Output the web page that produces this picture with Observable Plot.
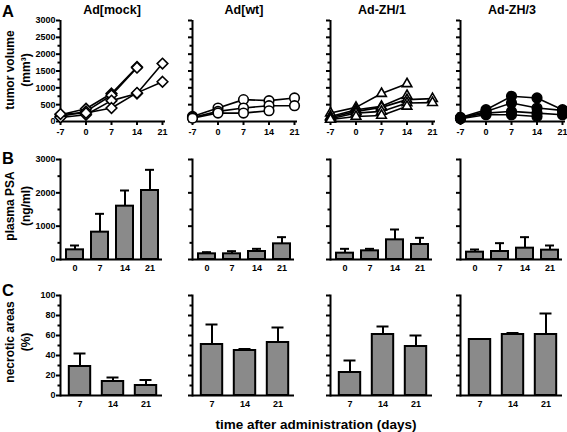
<!DOCTYPE html>
<html>
<head>
<meta charset="utf-8">
<script src="https://cdn.jsdelivr.net/npm/d3@7"></script>
<script src="https://cdn.jsdelivr.net/npm/@observablehq/plot@0.6"></script>
<style>
html, body { margin: 0; padding: 0; background: #fff; overflow: hidden; }
#fig { position: relative; width: 567px; height: 432px; overflow: hidden;
  font-family: "Liberation Sans", Arial, Helvetica, sans-serif; font-weight: bold; color: #000; }
.lbl { position: absolute; white-space: nowrap; line-height: 1; transform: translate(-50%, -50%); text-align: center; }
.ylbl { position: absolute; white-space: nowrap; text-align: center; line-height: 16px; transform: translate(-50%, -50%) rotate(-90deg); }
</style>
</head>
<body>
<div id="fig"></div>
<script>
// ---------------- data ----------------
const groups = ["Ad[mock]", "Ad[wt]", "Ad-ZH/1", "Ad-ZH/3"];

// A: tumor volume (mm³) per animal, days -7..21 (null = not measured)
const volumeDays = [-7, 0, 7, 14, 21];
const volumeTicks = [0, 500, 1000, 1500, 2000, 2500, 3000];
const volumeMinorTicks = [250, 750, 1250, 1750, 2250, 2750];
const volMock = [
  [200, 380, 830, 1620, null],
  [150, 300, 780, 1600, null],
  [120, 200, 620, 830, 1720],
  [220, 250, 400, 850, 1180]
];
const volWt = [
  [150, 400, 650, 620, 700],
  [120, 300, 400, 470, 470],
  [100, 250, 250, 320, null]
];
const volZH1 = [
  [250, 420, 830, 1120, null],
  [150, 350, 450, 770, null],
  [120, 300, 420, 650, 680],
  [80, 250, 300, 550, 560],
  [60, 150, 180, 450, null]
];
const volZH3 = [
  [120, 350, 750, 700, 350],
  [100, 300, 550, 400, 330],
  [100, 250, 300, 250, 200],
  [80, 200, 200, 150, null]
];
const volumeSymbols = ["diamond2", "circle", "triangle2", "circle"];
const volumeFills = ["white", "white", "white", "black"];

// B: plasma PSA (ng/ml), mean and SD
const psaDays = ["0", "7", "14", "21"];
const psaTicks = [0, 1000, 2000, 3000];
const psaMinorTicks = [500, 1500, 2500];
const psaMock = [290, 820, 1600, 2070];
const psaMockSd = [130, 550, 470, 620];
const psaWt = [170, 170, 240, 470];
const psaWtSd = [50, 80, 80, 200];
const psaZH1 = [190, 260, 590, 450];
const psaZH1Sd = [130, 60, 310, 200];
const psaZH3 = [220, 240, 340, 280];
const psaZH3Sd = [80, 250, 330, 140];

// C: necrotic areas (%), mean and SD
const necDays = ["7", "14", "21"];
const necTicks = [0, 20, 40, 60, 80, 100];
const necMinorTicks = [10, 30, 50, 70, 90];
const necMock = [29, 14, 10];
const necMockSd = [13, 4, 5.5];
const necWt = [51, 45, 53];
const necWtSd = [20, 1.5, 15];
const necZH1 = [23, 61, 49];
const necZH1Sd = [12, 8, 11];
const necZH3 = [56, 61, 61];
const necZH3Sd = [0.5, 1.5, 21];

// ---------------- tables ----------------
const volumeSeries = [volMock, volWt, volZH1, volZH3];
const psaSeries = [[psaMock, psaMockSd], [psaWt, psaWtSd], [psaZH1, psaZH1Sd], [psaZH3, psaZH3Sd]];
const necSeries = [[necMock, necMockSd], [necWt, necWtSd], [necZH1, necZH1Sd], [necZH3, necZH3Sd]];

function volumeTable(series) {
  const out = [];
  series.forEach((animal, a) => animal.forEach((v, k) => {
    if (v != null) out.push({animal: a, day: volumeDays[k], vol: v});
  }));
  return out;
}
function barTable(days, [mean, sd]) {
  return days.map((d, k) => ({day: d, mean: mean[k], top: mean[k] + sd[k]}));
}

// ---------------- layout ----------------
const FONT = '"Liberation Sans", Arial, Helvetica, sans-serif';
const fig = document.getElementById("fig");
const axisLeft = [60, 192, 330, 460];
const ML = 32, MR = 2, MT = 10, MB = 22;
const rowTop = [10, 149, 285];
const TICK_FONT = 9;

const baseStyle = {background: "transparent", overflow: "visible", fontFamily: FONT,
  fontWeight: "bold", fontSize: TICK_FONT + "px", color: "#000"};

function place(svg, left, top) {
  svg.style.position = "absolute";
  svg.style.left = left + "px";
  svg.style.top = top + "px";
  fig.appendChild(svg);
}

function yAxes(ticks, minor, showLabels) {
  return [
    Plot.axisY(ticks, {tickSize: 4, tickPadding: 1, strokeWidth: 2, label: null,
      fontWeight: "bold", fontSize: TICK_FONT, fontFamily: FONT,
      tickFormat: showLabels ? (d => String(d)) : (() => "")}),
    Plot.axisY(minor, {tickSize: 2.5, strokeWidth: 2, label: null, tickFormat: () => ""})
  ];
}

// Row A
groups.forEach((g, i) => {
  const data = volumeTable(volumeSeries[i]);
  const svg = Plot.plot({
    width: ML + 105 + MR, height: MT + 101 + MB,
    marginLeft: ML, marginRight: MR, marginTop: MT, marginBottom: MB,
    style: baseStyle,
    x: {domain: [-7, 21], range: [ML, ML + 102], label: null},
    y: {domain: [0, 3000], range: [MT + 101, MT], label: null},
    marks: [
      ...yAxes(volumeTicks, volumeMinorTicks, i === 0),
      Plot.axisX(volumeDays, {tickSize: 4, tickPadding: 3, strokeWidth: 2, label: null,
        fontWeight: "bold", fontSize: TICK_FONT, fontFamily: FONT, tickFormat: d => String(d)}),
      Plot.ruleX([-7], {stroke: "black", strokeWidth: 2}),
      Plot.ruleY([0], {stroke: "black", strokeWidth: 2}),
      Plot.line(data, {x: "day", y: "vol", z: "animal", stroke: "black", strokeWidth: 1.6}),
      Plot.dot(data, {x: "day", y: "vol", symbol: volumeSymbols[i],
        r: volumeSymbols[i] === "triangle2" ? 4.6 : 4.8,
        fill: volumeFills[i], stroke: "black", strokeWidth: 1.6})
    ]
  });
  place(svg, axisLeft[i] - ML, rowTop[0]);
});

function barPanel(data, days, yDomain, ticks, minor, showLabels, bandInset, capInset) {
  return Plot.plot({
    width: ML + 102 + MR, height: MT + 100 + MB,
    marginLeft: ML, marginRight: MR, marginTop: MT, marginBottom: MB,
    style: baseStyle,
    x: {type: "band", domain: days, range: [ML + 2, ML + 102], padding: 0, label: null},
    y: {domain: yDomain, range: [MT + 100, MT], label: null},
    marks: [
      ...yAxes(ticks, minor, showLabels),
      Plot.axisX({tickSize: 0, tickPadding: 5, label: null,
        fontWeight: "bold", fontSize: TICK_FONT, fontFamily: FONT}),
      Plot.ruleX(data, {x: "day", y1: "mean", y2: "top", stroke: "black", strokeWidth: 2}),
      Plot.tickY(data, {x: "day", y: "top", stroke: "black", strokeWidth: 2,
        insetLeft: capInset, insetRight: capInset}),
      Plot.barY(data, {x: "day", y: "mean", fill: "#8a8a8a", stroke: "black", strokeWidth: 2,
        insetLeft: bandInset, insetRight: bandInset}),
      Plot.frame({anchor: "left", stroke: "black", strokeWidth: 2}),
      Plot.ruleY([0], {stroke: "black", strokeWidth: 2})
    ]
  });
}

// Row B
groups.forEach((g, i) => {
  const svg = barPanel(barTable(psaDays, psaSeries[i]), psaDays, [0, 3000],
    psaTicks, psaMinorTicks, i === 0, 4, 8);
  place(svg, axisLeft[i] - ML, rowTop[1]);
});

// Row C
groups.forEach((g, i) => {
  const svg = barPanel(barTable(necDays, necSeries[i]), necDays, [0, 100],
    necTicks, necMinorTicks, i === 0, 5.8, 10.5);
  place(svg, axisLeft[i] - ML, rowTop[2]);
});

// ---------------- text ----------------
function label(text, x, y, size, cls = "lbl") {
  const d = document.createElement("div");
  d.className = cls;
  d.style.left = x + "px";
  d.style.top = y + "px";
  d.style.fontSize = size + "px";
  d.innerHTML = text;
  fig.appendChild(d);
}
groups.forEach((g, i) => label(g, axisLeft[i] + 52, 10, 12.5));
label("A", 8, 11, 16.5);
label("B", 8, 158, 16.5);
label("C", 8, 290, 16.5);
label("tumor volume<br>(mm³)", 18, 70, 12, "ylbl");
label("plasma PSA<br>(ng/ml)", 18, 206, 12, "ylbl");
label("necrotic areas<br>(%)", 18, 342, 12, "ylbl");
label("time after administration (days)", 316, 425, 13.5);
</script>
</body>
</html>
